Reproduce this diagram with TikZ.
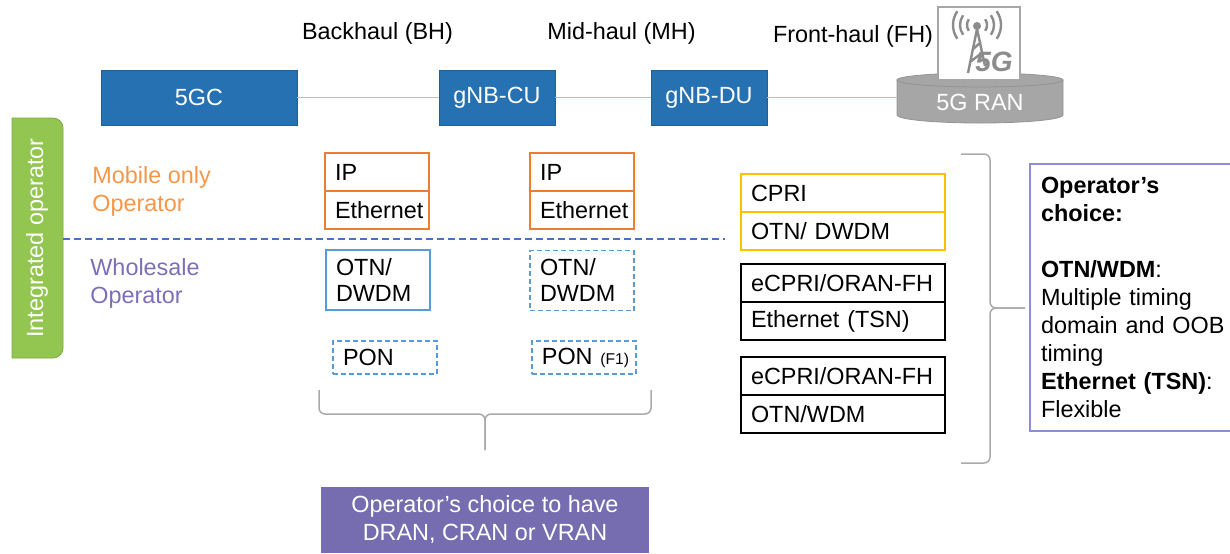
\documentclass[tikz,border=0pt]{standalone}
\usepackage{fontspec}
\setmainfont{Liberation Sans}
\usepackage{xcolor}
\usetikzlibrary{positioning}

\definecolor{nodeblue}{RGB}{38,113,178}
\definecolor{linegray}{RGB}{191,191,191}
\definecolor{lineblue}{RGB}{157,195,230}
\definecolor{mobileorange}{RGB}{247,150,70}
\definecolor{iporange}{RGB}{237,125,49}
\definecolor{wholepurple}{RGB}{125,110,185}
\definecolor{divblue}{RGB}{68,114,196}
\definecolor{otnblue}{RGB}{91,155,213}
\definecolor{cpriyellow}{RGB}{255,192,0}
\definecolor{intgreen}{RGB}{146,198,80}
\definecolor{choicepurple}{RGB}{118,108,176}
\definecolor{choiceline}{RGB}{142,142,210}
\definecolor{bracegray}{RGB}{170,170,170}
\definecolor{rangray}{RGB}{166,166,166}
\definecolor{icongray}{RGB}{140,140,140}

\begin{document}
\begin{tikzpicture}[x=0.5pt,y=-0.5pt,
    every node/.style={font=\fontsize{11.7}{14}\selectfont},
    netbox/.style={fill=nodeblue,draw=nodeblue!85!black,text=white,minimum height=27.5pt,inner sep=0pt},
    layer/.style={draw,line width=0.75pt,minimum height=19pt,text width=42pt,inner xsep=5pt,inner ysep=0pt,outer sep=0pt,align=left},
    widelayer/.style={layer,text width=92pt},
    dashedbox/.style={layer,draw=otnblue,dash pattern=on 2.5pt off 1.5pt},
    brace/.style={draw=bracegray,line width=0.75pt,rounded corners=3pt},
    antenna/.style={draw=icongray,line width=1.2pt}
]
    \useasboundingbox (0,0) rectangle (1230,553);

    % top row
    \node[netbox,minimum width=98pt] (fivegc) at (199,97.5) {5GC};
    \node[netbox,minimum width=58pt] (cu) at (497,97.5) {gNB-CU};
    \node[netbox,minimum width=58pt] (du) at (709,97.5) {gNB-DU};
    \node (bh) at (377.5,33) {Backhaul (BH)};
    \node (mh) at (621.5,33) {Mid-haul (MH)};
    \node (fh) at (853,36) {Front-haul (FH)};

    \filldraw[fill=rangray,draw=gray!85] (897,80) -- (897,115) arc[start angle=180,end angle=0,x radius=83,y radius=8] -- (1063,80) -- cycle;
    \filldraw[fill=rangray,draw=gray!85] (980,80) ellipse[x radius=83,y radius=7];
    \node[text=white,minimum width=83pt] (ran) at (980,102) {5G RAN};
    \node[draw=gray!70,line width=0.75pt,fill=white,minimum width=41pt,minimum height=36.5pt] (icon) at (979,43.5) {};
    \draw[antenna] (968,73) -- (977,29) -- (985,66) (970,62) -- (983,52) (972,50) -- (981,42);
    \fill[icongray] (977,26) circle[radius=4];
    \foreach \r in {10,17,24} {
        \draw[antenna] ([shift={(145:\r)}]977,25) arc[start angle=145,end angle=215,radius=\r];
        \draw[antenna] ([shift={(-35:\r)}]977,25) arc[start angle=-35,end angle=35,radius=\r];
    }
    \node[text=icongray,font=\fontsize{14}{14}\selectfont\bfseries\itshape,inner sep=0pt] (fiveg) at (994,62) {5G};

    \draw[linegray,line width=0.75pt] (fivegc) -- (cu);
    \draw[lineblue,line width=0.75pt] (cu) -- (du);
    \draw[lineblue,line width=0.75pt] (du.east) -- (du.east -| ran.west);

    % operators
    \filldraw[fill=intgreen,draw=intgreen!85!black] (12,118) -- (30,118) [rounded corners=5pt] -- (63,118) -- (63,358) -- (30,358) [sharp corners] -- (12,358) -- cycle;
    \node[text=white,rotate=90] (intop) at (37,238) {Integrated operator};
    \node[text=mobileorange,align=left,anchor=west,inner sep=0pt] (mobile) at (92,191) {Mobile only\\Operator};
    \node[text=wholepurple,align=left,anchor=west,inner sep=0pt] (whole) at (90,283) {Wholesale\\Operator};
    \coordinate (divend) at (725,239);
    \draw[divblue,line width=0.75pt,dash pattern=on 3.5pt off 2pt] (63,239) -- (divend);

    % backhaul and mid-haul stacks
    \node[layer,draw=iporange] (bhip) at (377,172) {IP};
    \node[layer,draw=iporange,below=0pt of bhip] (bheth) {Ethernet};
    \node[layer,draw=iporange] (mhip) at (582,172) {IP};
    \node[layer,draw=iporange,below=0pt of mhip] (mheth) {Ethernet};
    \node[layer,draw=otnblue,minimum height=30pt,font=\fontsize{11.7}{13}\selectfont] (bhotn) at (378,280) {OTN/\\DWDM};
    \node[dashedbox,minimum height=30pt,font=\fontsize{11.7}{13}\selectfont] (mhotn) at (582,280.5) {OTN/\\DWDM};
    \node[dashedbox,minimum height=16.5pt] (bhpon) at (385,357.5) {PON};
    \node[dashedbox,minimum height=16.5pt,text width=46pt,inner xsep=3pt] (mhpon) at (584,357.5) {\,PON {\fontsize{7.8}{8}\selectfont(F1)}};

    \draw[brace] (319,390) -- (319,414) -- (485,414) -- (485,450);
    \draw[brace] (651,390) -- (651,414) -- (485,414) -- (485,450);
    \node[fill=choicepurple,text=white,align=center,minimum width=164pt,minimum height=33pt,inner sep=0pt] (rantype) at (485,520) {Operator’s choice to have\\DRAN, CRAN or VRAN};

    % front-haul stacks
    \node[widelayer,draw=cpriyellow] (cpri) at (843,193) {CPRI};
    \node[widelayer,draw=cpriyellow,below=0pt of cpri] (cpriotn) {OTN/ DWDM};
    \node[widelayer] (ecpria) at (843,283) {eCPRI/ORAN-FH};
    \node[widelayer,below=0pt of ecpria] (ecprieth) {Ethernet (TSN)};
    \node[widelayer] (ecprib) at (843,376) {eCPRI/ORAN-FH};
    \node[widelayer,below=0pt of ecprib] (ecpriotn) {OTN/WDM};

    \draw[brace] (961,154) -- (990,154) -- (990,308) -- (1025,308);
    \draw[brace] (961,463) -- (990,463) -- (990,308) -- (1025,308);
    \node[draw=choiceline,line width=0.75pt,align=left,text width=94pt,inner xsep=5.5pt,minimum height=133.5pt] (choice) at (1135,297.5)
        {\textbf{Operator’s}\\\textbf{choice:}\\[14pt]\textbf{OTN/WDM}:\\Multiple timing\\domain and OOB\\timing\\\textbf{Ethernet (TSN)}:\\Flexible};
\end{tikzpicture}
\end{document}
